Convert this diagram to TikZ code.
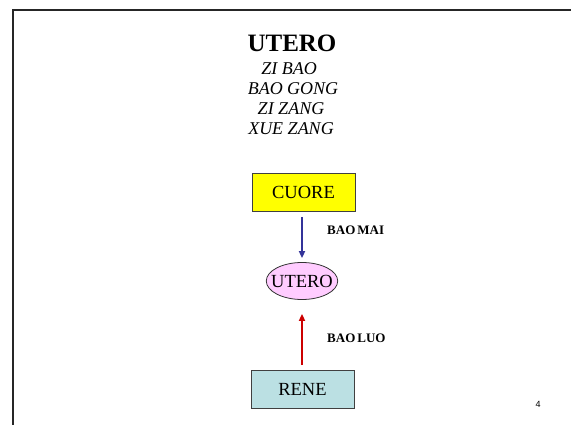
\documentclass[tikz,border=0pt]{standalone}
\usepackage{fontspec}
\setmainfont{Liberation Serif}
\newfontfamily\arialfont{Liberation Sans}
\usetikzlibrary{shapes.geometric,arrows.meta}
\definecolor{boxyellow}{HTML}{FFFF00}
\definecolor{boxcyan}{HTML}{BBE0E3}
\definecolor{ellpink}{HTML}{FFCCFF}
\definecolor{arrblue}{HTML}{333399}
\definecolor{arrred}{HTML}{CC0000}
\tikzset{
  organbox/.style={draw=black!75, line width=0.8pt, minimum width=103pt, minimum height=38pt, inner sep=0pt, font=\fontsize{18.5}{20}\selectfont},
  organell/.style={ellipse, draw=black!80, line width=0.8pt, fill=ellpink, text width=50.5pt, align=center, minimum height=37pt, inner sep=0pt, font=\fontsize{18.5}{20}\selectfont},
  linklabel/.style={anchor=west, inner sep=0pt, font=\bfseries\fontsize{13}{15}\selectfont},
  synonym/.style={inner sep=0pt, font=\itshape\fontsize{18}{20}\selectfont, anchor=base},
  link/.style={line width=2pt, -{Triangle[length=7pt,width=6pt]}},
  frameline/.style={line width=2pt, black!85}
}
\begin{document}
\begin{tikzpicture}[x=1pt,y=-1pt]
\useasboundingbox (0,0) rectangle (571,425);
\draw[frameline] (13,425) -- (13,10) -- (571,10);
\node[inner sep=0pt, anchor=base, font=\bfseries\fontsize{25}{27}\selectfont] (title) at (292,52) {UTERO};
\node[synonym] (s1) at (289,75) {ZI BAO};
\node[synonym] (s2) at (293,95) {BAO GONG};
\node[synonym] (s3) at (291,115) {ZI ZANG};
\node[synonym] (s4) at (291,135) {XUE ZANG};
\node[organbox, fill=boxyellow] (cuore) at (303.5,192.5) {CUORE};
\node[organell] (utero) at (302,281) {\makebox[0pt][c]{UTERO}};
\node[organbox, fill=boxcyan] (rene) at (302.5,389) {RENE};
\coordinate (c1) at (302,217);
\coordinate (c2) at (302,365);
\draw[link, arrblue, shorten >=4pt] (c1) -- (utero.north);
\draw[link, arrred, shorten >=14pt] (c2) -- (utero.south);
\node[linklabel] (lab1) at (327,230) {BAO\hspace{2pt}MAI};
\node[linklabel] (lab2) at (327,338) {BAO\hspace{2pt}LUO};
\node[inner sep=0pt, font=\arialfont\fontsize{9}{10}\selectfont] (page) at (538,404) {4};
\end{tikzpicture}
\end{document}
